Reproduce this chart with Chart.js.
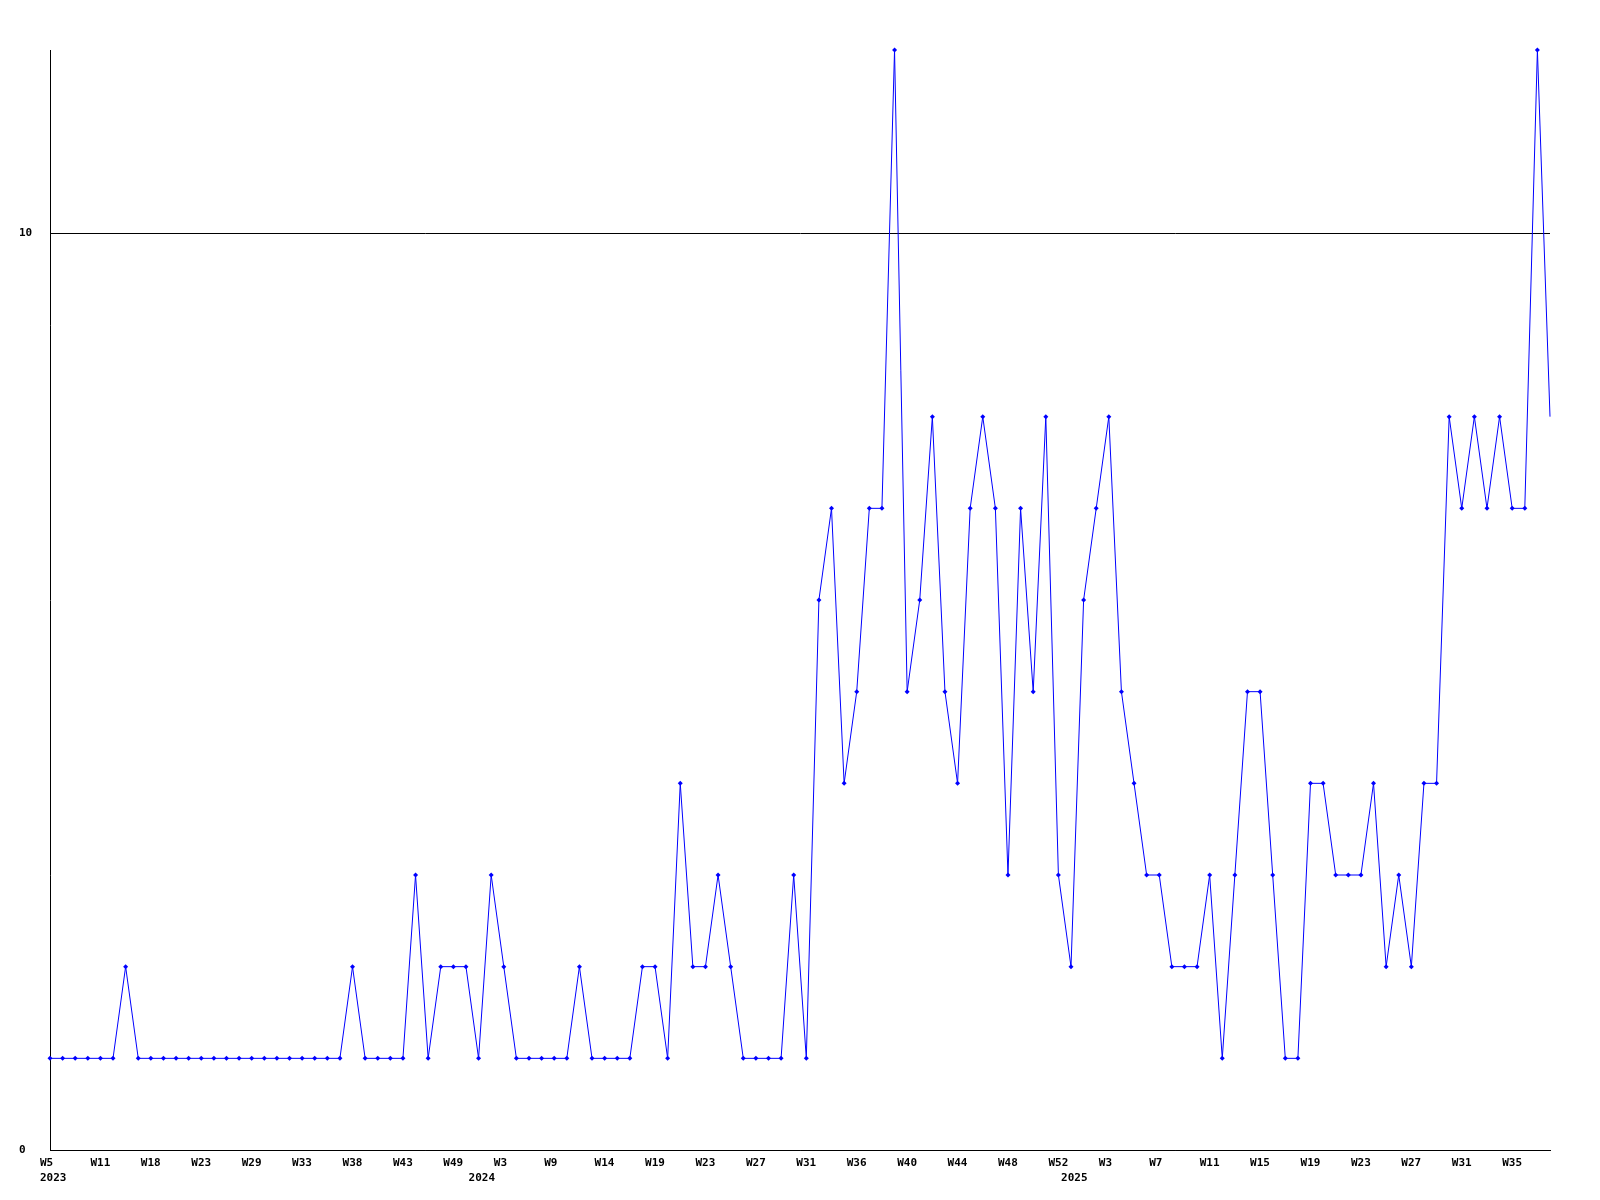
<!DOCTYPE html>
<html>
<head>
<meta charset="utf-8">
<script src="https://cdn.jsdelivr.net/npm/chart.js@4"></script>
<style>
  body { margin: 0; background: #fff; }
  #wrap { width: 1600px; height: 1200px; }
</style>
</head>
<body>
<div id="wrap"><canvas id="weekChart"></canvas></div>
<script>
// one value per entry, left to right
const counts = [
  1, 1, 1, 1, 1, 1, 2, 1, 1, 1,
  1, 1, 1, 1, 1, 1, 1, 1, 1, 1,
  1, 1, 1, 1, 2, 1, 1, 1, 1, 3,
  1, 2, 2, 2, 1, 3, 2, 1, 1, 1,
  1, 1, 2, 1, 1, 1, 1, 2, 2, 1,
  4, 2, 2, 3, 2, 1, 1, 1, 1, 3,
  1, 6, 7, 4, 5, 7, 7, 12, 5, 6,
  8, 5, 4, 7, 8, 7, 3, 7, 5, 8,
  3, 2, 6, 7, 8, 5, 4, 3, 3, 2,
  2, 2, 3, 1, 3, 5, 5, 3, 1, 1,
  4, 4, 3, 3, 3, 4, 2, 3, 2, 4,
  4, 8, 7, 8, 7, 8, 7, 7, 12, 8
];

// week label on every 4th entry
const weekLabels = ['W5', 'W11', 'W18', 'W23', 'W29', 'W33', 'W38', 'W43', 'W49', 'W3',
                    'W9', 'W14', 'W19', 'W23', 'W27', 'W31', 'W36', 'W40', 'W44', 'W48',
                    'W52', 'W3', 'W7', 'W11', 'W15', 'W19', 'W23', 'W27', 'W31', 'W35'];
const weekEvery = 4;

// year label and the entry it sits under
const yearLabels = ['2023', '2024', '2025'];
const yearStart = [0, 34, 81];

const yTicks = [0, 10];
const yMax = 12;

const categories = counts.map((v, i) => {
  const week = i % weekEvery === 0 ? (weekLabels[i / weekEvery] || '') : '';
  const y = yearStart.indexOf(i);
  return [week, y >= 0 ? yearLabels[y] : ''];
});

const tickFont = { family: '"DejaVu Sans Mono", monospace', size: 11, weight: 'bold', lineHeight: 1.35 };

const ctx = document.getElementById('weekChart').getContext('2d');
new Chart(ctx, {
    type: 'line',
    data: {
        labels: categories,
        datasets: [{
            data: counts,
            borderColor: '#0000ff',
            backgroundColor: '#0000ff',
            borderWidth: 1,
            tension: 0,
            fill: false,
            clip: false,
            pointStyle: 'rectRot',
            pointRadius: c => c.dataIndex === counts.length - 1 ? 0 : 2.5,
            pointBorderWidth: 0,
            pointBackgroundColor: '#0000ff'
        }]
    },
    options: {
        responsive: true,
        maintainAspectRatio: false,
        animation: false,
        layout: { padding: { left: 19, right: 50, top: 50, bottom: 0 } },
        plugins: { legend: { display: false }, tooltip: { enabled: false } },
        scales: {
            x: {
                offset: false,
                grid: { display: false, drawTicks: false },
                border: { display: true, color: '#000', width: 1 },
                ticks: {
                    autoSkip: false,
                    maxRotation: 0,
                    minRotation: 0,
                    align: 'start',
                    labelOffset: -10,
                    padding: 6,
                    color: '#000',
                    font: tickFont
                },
                afterFit: scale => { scale.height = 50; }
            },
            y: {
                min: 0,
                max: yMax,
                grid: { color: '#000', lineWidth: 1, drawTicks: false },
                border: { display: true, color: '#000', width: 1 },
                afterBuildTicks: axis => { axis.ticks = yTicks.map(v => ({ value: v })); },
                ticks: {
                    crossAlign: 'far',
                    padding: 0,
                    color: '#000',
                    font: tickFont
                },
                afterFit: scale => { scale.width = 31; }
            }
        }
    }
});
</script>
</body>
</html>
